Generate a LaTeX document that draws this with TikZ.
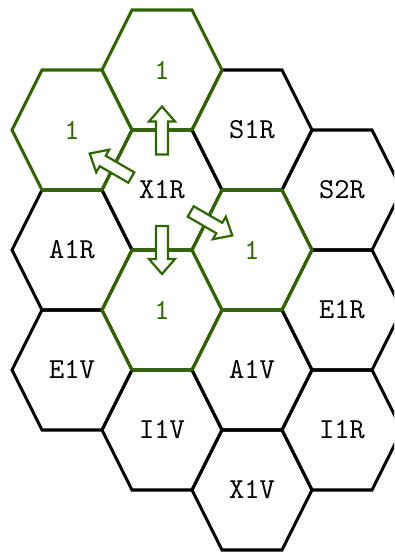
\documentclass[tikz,border=0pt]{standalone}
\definecolor{hgreen}{RGB}{46,102,0}
\newcommand\biglbl[1]{\scalebox{2.9}{\fontsize{10}{12}\selectfont\ttfamily #1}}
\begin{document}
\begin{tikzpicture}[x=1pt,y=1pt,
  hexblack/.style={draw=black,line width=3.1pt},
  hexgreen/.style={draw=hgreen,line width=3.1pt},
  lbl/.style={inner sep=0pt},
  glbl/.style={lbl,text=hgreen},
  blockarrow/.style={draw=hgreen,fill=white,line width=2.2pt}]
\useasboundingbox (0,0) rectangle (394,552);
\clip (0,0) rectangle (394,552);
% black hexagons
\foreach \x/\y in {72/302,72/182,162/362,162/122,252/422,252/182,252/62,342/362,342/242,342/122}
  \draw[hexblack,shift={(\x,\y)}] (-60,0) -- (-30,60) -- (30,60) -- (60,0) -- (30,-60) -- (-30,-60) -- cycle;
% green hexagons
\foreach \x/\y in {72/422,162/482,162/242,252/302}
  \draw[hexgreen,shift={(\x,\y)}] (-60,0) -- (-30,60) -- (30,60) -- (60,0) -- (30,-60) -- (-30,-60) -- cycle;
% labels
\node[lbl] (a1r) at (72,302) {\biglbl{A1R}};
\node[lbl] (e1v) at (72,182) {\biglbl{E1V}};
\node[lbl] (x1r) at (162,362) {\biglbl{X1R}};
\node[lbl] (i1v) at (162,122) {\biglbl{I1V}};
\node[lbl] (s1r) at (252,422) {\biglbl{S1R}};
\node[lbl] (a1v) at (252,182) {\biglbl{A1V}};
\node[lbl] (x1v) at (252,62) {\biglbl{X1V}};
\node[lbl] (s2r) at (342,362) {\biglbl{S2R}};
\node[lbl] (e1r) at (342,242) {\biglbl{E1R}};
\node[lbl] (i1r) at (342,122) {\biglbl{I1R}};
\node[glbl] (g1) at (72,422) {\biglbl{1}};
\node[glbl] (g2) at (162,482) {\biglbl{1}};
\node[glbl] (g3) at (162,242) {\biglbl{1}};
\node[glbl] (g4) at (252,302) {\biglbl{1}};
% block arrows
\foreach \px/\py/\ang in {162/421.5/90, 162/302/-90, 110.5/386.5/150, 211.5/328.5/-30}
  \draw[blockarrow,shift={(\px,\py)},rotate=\ang] (-24,-6) -- (9,-6) -- (9,-13) -- (24,0) -- (9,13) -- (9,6) -- (-24,6) -- cycle;
\end{tikzpicture}
\end{document}
